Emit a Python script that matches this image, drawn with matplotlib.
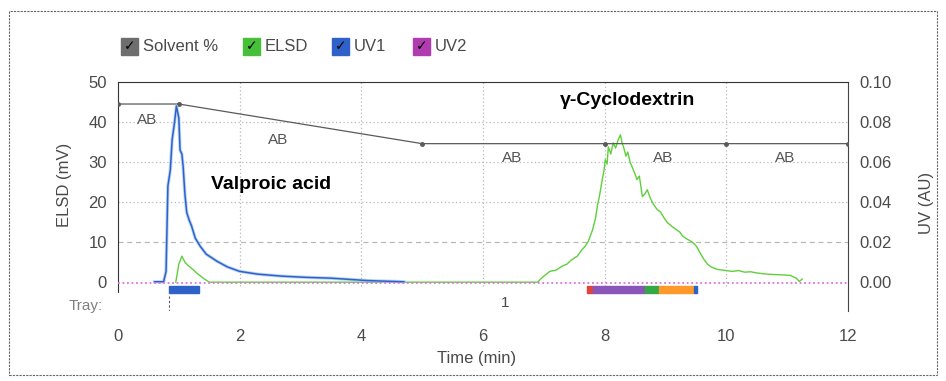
import matplotlib
matplotlib.use("Agg")
import matplotlib.pyplot as plt
from matplotlib.patches import Rectangle

plt.rcParams['font.family'] = ['Liberation Sans', 'DejaVu Sans']

# ---- data ----
# solvent gradient (drawn on ELSD scale)
solv_t = [0, 1, 5, 8, 10, 12]
solv_v = [44.5, 44.5, 34.6, 34.6, 34.6, 34.6]

# UV1 trace (AU)
uv1_t = [0.6, 0.75, 0.79, 0.82, 0.86, 0.89, 0.93, 0.96, 1.0, 1.02, 1.05, 1.07, 1.1, 1.13,
         1.17, 1.21, 1.27, 1.35, 1.45, 1.63, 1.8, 2.0, 2.3, 2.7, 3.1, 3.5, 4.1, 4.7]
uv1_v = [0.0002, 0.0002, 0.0054, 0.048, 0.056, 0.0712, 0.080, 0.088, 0.082, 0.066, 0.064,
         0.058, 0.044, 0.0348, 0.031, 0.028, 0.022, 0.018, 0.014, 0.0104, 0.0076, 0.0054,
         0.004, 0.003, 0.0024, 0.002, 0.0008, 0.0002]

# UV2 trace (flat baseline)
uv2_t = [0, 12]
uv2_v = [-0.0003, -0.0003]

# ELSD trace (mV)
elsd_t = [0.95, 1.0, 1.05, 1.1, 1.15, 1.23, 1.3, 1.4, 1.5, 6.9, 6.94, 7.0, 7.1, 7.2,
          7.3, 7.38, 7.45, 7.55, 7.62, 7.68, 7.73, 7.8, 7.85, 7.88, 7.92, 7.96, 7.99, 8.01,
          8.04, 8.06, 8.1, 8.14, 8.18, 8.22, 8.26, 8.29, 8.31, 8.35, 8.38, 8.42, 8.46, 8.5,
          8.53, 8.57, 8.62, 8.66, 8.7, 8.75, 8.8, 8.86, 8.92, 8.97, 9.03, 9.1, 9.17, 9.23,
          9.29, 9.35, 9.42, 9.48, 9.52, 9.58, 9.64, 9.69, 9.75, 9.85, 9.95, 10.1, 10.2, 10.3,
          10.4, 10.5, 10.67, 10.8, 10.95, 11.05, 11.15, 11.2, 11.25]
elsd_v = [0, 4.5, 6.5, 5, 4.2, 3.2, 2.2, 1.0, 0, 0, 0.7, 1.5, 2.7, 3.0, 4.0, 4.5, 5.5,
          6.5, 8.0, 9.0, 10.2, 13, 16, 19, 22, 25.6, 28, 30.6, 29.5, 33.8, 32, 34.8, 33.5,
          35.5, 36.8, 34.5, 33.8, 31.5, 32.5, 29.9, 28.5, 27, 25.6, 26.5, 21.4, 22, 23.1,
          21, 19.5, 18.2, 17.5, 16.2, 14.9, 14, 13.2, 12.6, 11.4, 10.8, 10.2, 9.5, 8.7, 7,
          5.5, 4.5, 3.8, 3.2, 3.0, 2.7, 2.9, 2.5, 2.6, 2.3, 2.0, 1.9, 1.8, 1.7, 1.0, 0.2,
          0.8]

# collected fractions (tray row)
frac_start = [0.84, 7.71, 7.80, 8.67, 8.90, 9.47]
frac_end = [1.33, 7.80, 8.67, 8.90, 9.47, 9.52]
frac_color = ['#2f62c8', '#e0443c', '#8a55b8', '#33a845', '#ff9a2a', '#2f62c8']

ab_x = [0.48, 2.63, 6.48, 8.96, 10.97]
ab_y = [40.5, 35.6, 31, 31, 31]

legend_names = ['Solvent %', 'ELSD', 'UV1', 'UV2']
legend_colors = ['#6e6e6e', '#45c038', '#2f62c8', '#b03cb0']
legend_x = [121, 243, 332, 413]

x_ticks = [0, 2, 4, 6, 8, 10, 12]
y_ticks = [0, 10, 20, 30, 40, 50]
uv_ticks = [0.0, 0.02, 0.04, 0.06, 0.08, 0.10]

txt = '#4a4a4a'
W, H = 946, 381
fig = plt.figure(figsize=(W / 100, H / 100), dpi=100)
ax = fig.add_axes([118 / W, 1 - 311 / H, 730 / W, 229 / H])

ymin = -7.2
ax.set_xlim(0, 12)
ax.set_ylim(ymin, 50)

# grid
for gx in x_ticks[1:-1]:
    ax.plot([gx, gx], [-1, 50], color='#b8b8b8', lw=0.9, ls=(0, (1, 2)), zorder=1)
for gy in y_ticks[1:-1]:
    ls = (0, (4, 3)) if gy == 10 else (0, (1, 2))
    ax.plot([0, 12], [gy, gy], color='#b8b8b8', lw=0.9, ls=ls, zorder=1)

# traces
ax.plot(elsd_t, elsd_v, color='#5fcf3c', lw=1.0, zorder=3)
ax.plot(solv_t, solv_v, color='#5a5a5a', lw=0.9, marker='o', ms=2.5, zorder=4)
ax2 = ax.twinx()
ax2.set_ylim(ymin / 500, 0.1)
ax2.plot(uv1_t, uv1_v, color='#9fc4f0', lw=2.4, alpha=0.7, zorder=2)
ax2.plot(uv1_t, uv1_v, color='#2f62c8', lw=1.1, zorder=3)
ax2.plot(uv2_t, uv2_v, color='#e070e0', lw=1.3, ls=(0, (1, 1.5)), zorder=4)

# tray row
for s, e, c in zip(frac_start, frac_end, frac_color):
    ax.add_patch(Rectangle((s, -2.7), e - s, 1.8, color=c, zorder=5))
ax.plot([0.84, 0.84], [-3.4, -7.2], color='#555555', lw=0.8, ls=(0, (2, 2)))
ax.text(6.37, -5.3, '1', color=txt, fontsize=11, ha='center', va='center')
fig.text(86 / W, 1 - 306 / H, 'Tray:', color='#808080', fontsize=11, ha='center', va='center')

for x, y in zip(ab_x, ab_y):
    ax.text(x, y, 'AB', color='#555555', fontsize=11, ha='center', va='center', zorder=6)

ax.text(2.52, 24.4, 'Valproic acid', fontsize=14, fontweight='bold', ha='center', va='center')
ax.text(8.37, 45.5, 'γ-Cyclodextrin', fontsize=14, fontweight='bold', ha='center', va='center')

# axes styling
ax.spines['bottom'].set_visible(False)
ax.spines['left'].set_bounds(-2.5, 50)
ax.spines['left'].set_color('#333333')
ax.spines['top'].set_color('#333333')
for s in ['top', 'bottom', 'left', 'right']:
    ax2.spines[s].set_visible(False)
ax.spines['right'].set_linestyle((0, (1, 1)))
ax.spines['right'].set_color('#444444')

ax.set_xticks(x_ticks)
ax.set_yticks(y_ticks)
ax2.set_yticks(uv_ticks)
ax2.set_yticklabels(['%.2f' % v for v in uv_ticks])
ax.tick_params(axis='x', length=0, pad=13, labelsize=12, labelcolor=txt)
ax.tick_params(axis='y', length=0, pad=8, labelsize=12, labelcolor=txt)
ax2.tick_params(axis='y', length=0, pad=8, labelsize=12, labelcolor=txt)

fig.text(64 / W, 1 - 185 / H, 'ELSD (mV)', rotation=90, fontsize=12, color=txt, ha='center', va='center')
fig.text(926 / W, 1 - 203 / H, 'UV (AU)', rotation=90, fontsize=12, color=txt, ha='center', va='center')
fig.text(477 / W, 1 - 358 / H, 'Time (min)', fontsize=12, color=txt, ha='center', va='center')

# legend with check boxes
for name, col, lx in zip(legend_names, legend_colors, legend_x):
    fig.patches.append(Rectangle((lx / W, 1 - 55 / H), 17 / W, 17 / H, color=col,
                                 transform=fig.transFigure, figure=fig))
    fig.text((lx + 8.5) / W, 1 - 46.5 / H, '✓', fontsize=10, fontweight='bold',
             family='DejaVu Sans', ha='center', va='center', color='black')
    fig.text((lx + 22) / W, 1 - 46.5 / H, name, fontsize=12, color=txt, ha='left', va='center')

# dashed frame around the whole picture
fig.patches.append(Rectangle((9 / W, 1 - 375 / H), 928 / W, 364 / H, fill=False,
                             ec='#666666', lw=0.8, ls=(0, (2, 1)),
                             transform=fig.transFigure, figure=fig))

fig.savefig('out.png', dpi=100)
